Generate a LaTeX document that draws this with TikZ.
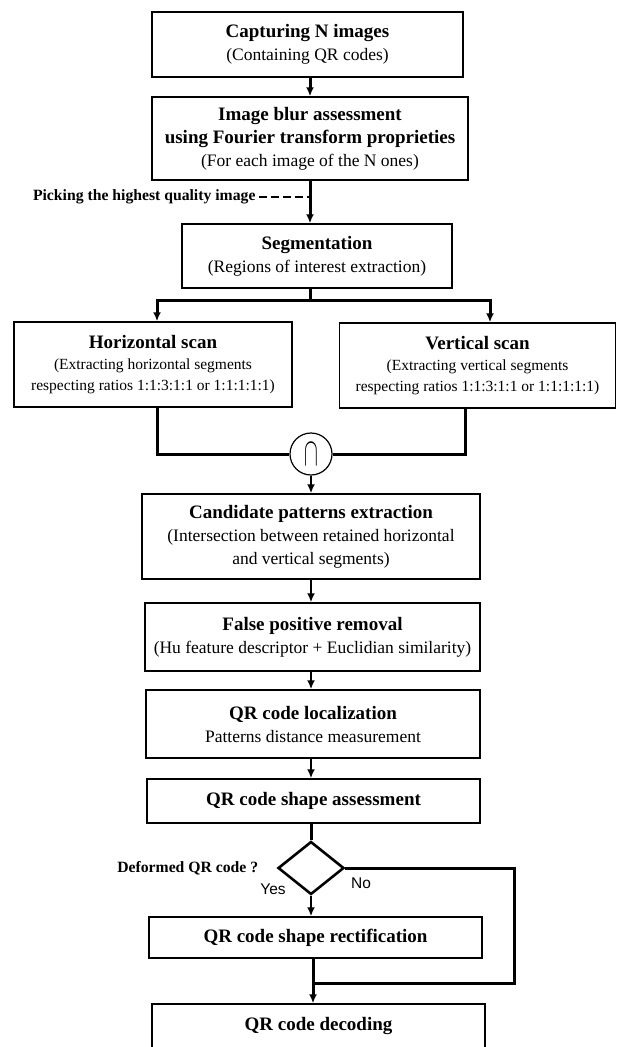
\documentclass[tikz,border=0pt]{standalone}
\usepackage{fontspec}
\setmainfont{Liberation Serif}
\newfontfamily\yesnofont{Liberation Sans}
\usepackage{graphicx}
\usetikzlibrary{shapes.geometric, arrows.meta, positioning}
\newcommand{\steptitle}[1]{{\fontsize{19}{24}\selectfont\bfseries #1}}

\begin{document}
\begin{tikzpicture}[x=1pt, y=-1pt, >={Latex[length=9pt,width=8pt]}, font=\fontsize{17.5}{23}\selectfont, box/.style={draw, line width=1.5pt, fill=white, align=center, inner sep=2pt}, link/.style={line width=3pt}, shortlink/.style={line width=2pt}, note/.style={font=\fontsize{15.7}{18}\selectfont\bfseries}]
\useasboundingbox (0,0) rectangle (617,1047);
\node[box, minimum width=311pt, minimum height=65pt] (capture) at (307.5,44.5) {\steptitle{Capturing N images}\\(Containing QR codes)};
\node[box, minimum width=316pt, minimum height=83pt] (blur) at (310,138.5) {\steptitle{Image blur assessment}\\\steptitle{using Fourier transform proprieties}\\(For each image of the N ones)};
\node[box, minimum width=270pt, minimum height=64pt] (segment) at (317,256) {\steptitle{Segmentation}\\(Regions of interest extraction)};
\node[box, minimum width=278pt, minimum height=85pt, font=\fontsize{15.5}{21}\selectfont] (hscan) at (153,364.5) {\steptitle{Horizontal scan}\\(Extracting horizontal segments\\respecting ratios 1:1:3:1:1 or 1:1:1:1:1)};
\node[box, minimum width=276pt, minimum height=85pt, font=\fontsize{15.5}{21}\selectfont] (vscan) at (477.5,365.5) {\steptitle{Vertical scan}\\(Extracting vertical segments\\respecting ratios 1:1:3:1:1 or 1:1:1:1:1)};
\node[draw, circle, line width=1.2pt, fill=white, minimum size=42pt, inner sep=0pt] (inter) at (311,454) {\scalebox{1.2}[2.3]{$\cap$}};
\node[box, minimum width=338pt, minimum height=85pt] (cand) at (311,536.5) {\steptitle{Candidate patterns extraction}\\(Intersection between retained horizontal\\and vertical segments)};
\node[box, minimum width=335pt, minimum height=68pt] (fpr) at (312.5,637) {\steptitle{False positive removal}\\(Hu feature descriptor + Euclidian similarity)};
\node[box, minimum width=334pt, minimum height=68pt] (locate) at (313,724) {\steptitle{QR code localization}\\Patterns distance measurement};
\node[box, minimum width=333pt, minimum height=44pt] (shape) at (313.5,801) {\steptitle{QR code shape assessment}};
\node[draw, diamond, line width=2.6pt, minimum width=66pt, minimum height=53pt, inner sep=0pt] (dia) at (311,868) {};
\node[box, minimum width=333pt, minimum height=41pt] (rect) at (315.5,937.5) {\steptitle{QR code shape rectification}};
\node[box, minimum width=333pt, minimum height=44pt] (decode) at (318.5,1026) {\steptitle{QR code decoding}};
\node[note, anchor=east] (pick) at (259,197) {Picking the highest quality image};
\node[note, left=15pt of dia] (deform) {Deformed QR code ?};
\node[font=\yesnofont\fontsize{15.5}{18}\selectfont] (yes) at (273,889) {Yes};
\node[font=\yesnofont\fontsize{15.5}{18}\selectfont] (no) at (361,883) {No};
\coordinate (split) at (310,300);
\coordinate (merge) at (313,983);
\coordinate (nocorner) at (514,983);
\draw[link, ->] (capture.south -| blur.south) -- (blur.south |- blur.north);
\draw[link, ->] (blur.south) -- (blur.south |- segment.north);
\draw[line width=2.2pt, dash pattern=on 8pt off 4pt] (pick.east) -- (pick.east -| blur.south);
\draw[link] (segment.south -| split) -- (split);
\draw[link, <->] ([xshift=4pt]hscan.north) |- (split) -| ([xshift=12.5pt]vscan.north);
\draw[link] ([xshift=4pt]hscan.south) |- (inter.west);
\draw[link] ([xshift=-12.5pt]vscan.south) |- (inter.east);
\draw[shortlink, ->] (inter.south) -- (inter.south |- cand.north);
\draw[shortlink, ->] (cand.south -| inter) -- (inter |- fpr.north);
\draw[shortlink, ->] (fpr.south -| inter) -- (inter |- locate.north);
\draw[shortlink, ->] (locate.south -| inter) -- (inter |- shape.north);
\draw[link] (shape.south -| dia) -- (dia.north);
\draw[shortlink, ->] (dia.south) -- (dia.south |- rect.north);
\draw[link] (dia.east) -| (nocorner) -- (merge);
\draw[link, ->] (rect.south -| merge) -- (merge |- decode.north);
\end{tikzpicture}
\end{document}
